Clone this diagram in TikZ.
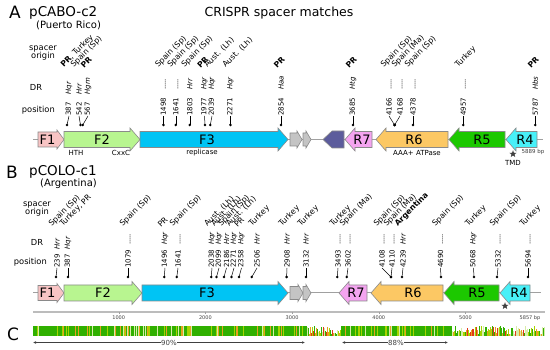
\documentclass[tikz,border=0pt]{standalone}
\usepackage{fontspec}
\setmainfont{DejaVu Sans}
\usetikzlibrary{arrows.meta,shapes.geometric}
\definecolor{fonepink}{HTML}{F8C4C4}
\definecolor{ftwogreen}{HTML}{B8F590}
\definecolor{fthreecyan}{HTML}{00C4F4}
\definecolor{orfgray}{HTML}{C4C4C4}
\definecolor{orfpurple}{HTML}{5C5C9C}
\definecolor{rsevenpink}{HTML}{F4A4F0}
\definecolor{rsixorange}{HTML}{FCC864}
\definecolor{rfivegreen}{HTML}{1CC800}
\definecolor{rfourcyan}{HTML}{48F0F8}
\definecolor{edgegray}{HTML}{8A8A8A}
\definecolor{spinegray}{HTML}{A0A0A0}
\definecolor{textgray}{HTML}{404040}
\definecolor{cons0}{HTML}{30B000}
\definecolor{cons1}{HTML}{A8D400}
\definecolor{cons2}{HTML}{E8A020}
\definecolor{cons3}{HTML}{E03818}
\definecolor{cons4}{HTML}{D8ECA8}
% gene arrow outlines: tail x, tip x, y, style
\newcommand{\fwdshape}[4]{\draw[#4] (#1,#3-\gbh) -- (#2-\ghl,#3-\gbh) -- (#2-\ghl,#3-\ghh) -- (#2,#3) -- (#2-\ghl,#3+\ghh) -- (#2-\ghl,#3+\gbh) -- (#1,#3+\gbh) -- cycle;}
\newcommand{\revshape}[4]{\draw[#4] (#1,#3-\gbh) -- (#2+\ghl,#3-\gbh) -- (#2+\ghl,#3-\ghh) -- (#2,#3) -- (#2+\ghl,#3+\ghh) -- (#2+\ghl,#3+\gbh) -- (#1,#3+\gbh) -- cycle;}
% spacer pins: name, dot x, column x, position, DR, origin
\newcommand{\pinA}[6]{%
  \coordinate (#1-dot) at (#2,125);
  \node[postext] (#1) at (#3,116) {#4\hspace{8pt}#5};
  \node[origtext] (#1-or) at (#3-4,69) {#6};
  \fill (#1-dot) circle[radius=1.4pt];
  \draw[pinline] (#1-dot) -- (#1.west);}
\newcommand{\pinB}[6]{%
  \coordinate (#1-dot) at (#2,277);
  \node[postext] (#1) at (#3,268) {#4\hspace{5pt}#5};
  \node[origtext] (#1-or) at (#3-4,228) {#6};
  \fill (#1-dot) circle[radius=1.4pt];
  \draw[pinline] (#1-dot) -- (#1.west);}

\begin{document}
\begin{tikzpicture}[x=1pt,y=-1pt,>=Latex,
 gene/.style={draw=edgegray,line width=0.6pt},
 genelabel/.style={inner sep=0pt,font=\fontsize{13}{13}\selectfont},
 note/.style={inner sep=0pt,font=\fontsize{7}{7}\selectfont},
 postext/.style={rotate=90,anchor=west,inner sep=0pt,font=\fontsize{7}{7}\selectfont},
 origtext/.style={rotate=45,anchor=south west,inner sep=0pt,font=\fontsize{7.8}{7.8}\selectfont},
 rowlabel/.style={inner sep=0pt,align=center,font=\fontsize{8.3}{8.8}\selectfont},
 panel/.style={inner sep=0pt,font=\fontsize{17}{17}\selectfont},
 plasmid/.style={inner sep=0pt,anchor=west,font=\fontsize{13.5}{13.5}\selectfont},
 origin/.style={inner sep=0pt,anchor=west,font=\fontsize{10}{10}\selectfont},
 pinline/.style={line width=0.5pt},
 spine/.style={spinegray,line width=1pt},
 tick/.style={inner sep=0pt,font=\fontsize{5}{5}\selectfont,textgray},
 pct/.style={-{Latex[length=3pt,width=2.6pt]},textgray,line width=0.5pt},
 tmd/.style={star,star points=5,star point ratio=2.4,fill=textgray,inner sep=0pt,minimum size=7.5pt}]
\useasboundingbox (0,0) rectangle (550,350);

% panel A
\node[panel] (lblA) at (15,12.5) {A};
\node[plasmid] (nameA) at (29,13) {pCABO-c2};
\node[origin] (placeA) at (36,25.5) {(Puerto Rico)};
\node[inner sep=0pt,font=\fontsize{12.5}{12.5}\selectfont] (title) at (279,13) {CRISPR spacer matches};
\node[rowlabel] (soA) at (43,53) {spacer\\origin};
\node[rowlabel] (drA) at (36,87) {DR};
\node[rowlabel,anchor=east] (posA) at (55,110) {position};

\draw[spine] (33,139.5) -- (543,139.5);
\def\gbh{7.5}\def\ghh{9.5}\def\ghl{7}
\fwdshape{38}{64}{139.5}{gene,fill=fonepink}
\def\gbh{8}\def\ghh{11.5}\def\ghl{10}
\fwdshape{64}{140}{139.5}{gene,fill=ftwogreen}
\fwdshape{140}{288}{139.5}{gene,fill=fthreecyan}
\revshape{372}{345}{139.5}{gene,fill=rsevenpink}
\revshape{448}{376}{139.5}{gene,fill=rsixorange}
\revshape{505}{449}{139.5}{gene,fill=rfivegreen}
\revshape{537}{506}{139.5}{gene,fill=rfourcyan}
\def\gbh{6.5}\def\ghh{8.5}\def\ghl{5}
\fwdshape{290}{302}{139.5}{gene,fill=orfgray}
\fwdshape{303}{311}{139.5}{gene,fill=orfgray}
\def\gbh{8.5}\def\ghh{8.5}\def\ghl{9}
\revshape{344}{323}{139.5}{gene,fill=orfpurple}

\node[genelabel] (f1A) at (47.5,139.5) {F1};
\node[genelabel] (f2A) at (102,139.5) {F2};
\node[genelabel] (f3A) at (207,139.5) {F3};
\node[genelabel] (r7A) at (362,139.5) {R7};
\node[genelabel] (r6A) at (414,139.5) {R6};
\node[genelabel] (r5A) at (482,139.5) {R5};
\node[genelabel] (r4A) at (525,139.5) {R4};
\node[note] (hth) at (76,153) {HTH};
\node[note] (cxxc) at (121,153) {CxxC};
\node[note] (repl) at (202,153) {replicase};
\node[note] (atpase) at (417,153) {AAA+ ATPase};
\node[tick,font=\fontsize{5.5}{5.5}\selectfont] (lenA) at (533,152) {5889 bp};
\node[tmd] (starA) at (513,154) {};
\node[note] (tmdA) at (513,162.5) {TMD};

\pinA{a387}{67}{69}{387}{\textit{Hqr}}{\textbf{PR}, Turkey}
\pinA{a542}{80.5}{79}{542}{\textit{Hrr}}{Spain (Sp)}
\pinA{a567}{82.7}{88}{567}{\textit{Hgm}}{\textbf{PR}}
\pinA{a1498}{163.4}{163.4}{1498}{.....}{Spain (Sp)}
\pinA{a1641}{175.8}{175.8}{1641}{.....}{Spain (Sp)}
\pinA{a1803}{189.8}{189.8}{1803}{\textit{Hrr}}{Spain (Sp)}
\pinA{a1977}{205}{204.5}{1977}{\textit{Hqr}}{\textbf{PR}}
\pinA{a2039}{210.3}{212}{2039}{\textit{Hqr}}{Aust. (Lh)}
\pinA{a2271}{230.4}{230.4}{2271}{\textit{Hqr}}{Aust. (Lh)}
\pinA{a2854}{281}{281}{2854}{\textit{Haa}}{\textbf{PR}}
\pinA{a3685}{353}{353}{3685}{\textit{Htg}}{\textbf{PR}}
\pinA{a4166}{394.6}{389}{4166}{.....}{Spain (Sp)}
\pinA{a4168}{394.6}{400}{4168}{.....}{Spain (Ma)}
\pinA{a4378}{413}{413}{4378}{.....}{Spain (Sp)}
\pinA{a4957}{463.3}{463.3}{4957}{.....}{Turkey}
\pinA{a5787}{535.2}{535.2}{5787}{\textit{Hbs}}{\textbf{PR}}

% panel B
\node[panel] (lblB) at (12,172) {B};
\node[plasmid] (nameB) at (29,172) {pCOLO-c1};
\node[origin] (placeB) at (40,184) {(Argentina)};
\node[rowlabel] (soB) at (37,209) {spacer\\origin};
\node[rowlabel] (drB) at (37,242) {DR};
\node[rowlabel,anchor=east] (posB) at (47,262) {position};

\draw[spine] (33,293) -- (541,293);
\def\gbh{7.5}\def\ghh{9.5}\def\ghl{7}
\fwdshape{38}{64}{293}{gene,fill=fonepink}
\def\gbh{8}\def\ghh{11.5}\def\ghl{10}
\fwdshape{64}{142}{293}{gene,fill=ftwogreen}
\fwdshape{142}{288}{293}{gene,fill=fthreecyan}
\revshape{367}{339}{293}{gene,fill=rsevenpink}
\revshape{443}{371}{293}{gene,fill=rsixorange}
\revshape{499}{444}{293}{gene,fill=rfivegreen}
\revshape{530}{500}{293}{gene,fill=rfourcyan}
\def\gbh{6.5}\def\ghh{8.5}\def\ghl{5}
\fwdshape{290}{303}{293}{gene,fill=orfgray}
\fwdshape{303}{311}{293}{gene,fill=orfgray}

\node[genelabel] (f1B) at (47.5,293) {F1};
\node[genelabel] (f2B) at (103,293) {F2};
\node[genelabel] (f3B) at (207,293) {F3};
\node[genelabel] (r7B) at (356,293) {R7};
\node[genelabel] (r6B) at (413,293) {R6};
\node[genelabel] (r5B) at (477,293) {R5};
\node[genelabel] (r4B) at (519,293) {R4};
\node[tmd] (starB) at (505,306) {};

\pinB{b239}{56}{57}{239}{\textit{Hrr}}{Spain (Sp)}
\pinB{b387}{68}{68}{387}{\textit{Hqr}}{Turkey, PR}
\pinB{b1079}{128}{128}{1079}{.....}{Spain (Sp)}
\pinB{b1496}{164.2}{165}{1496}{\textit{Hqr}}{PR}
\pinB{b1641}{176.8}{178}{1641}{.....}{Spain (Sp)}
\pinB{b2038}{211.2}{212}{2038}{\textit{Hqr}}{Aust. (Lh)}
\pinB{b2099}{216.5}{219}{2099}{\textit{Hqr}}{Aust. (Lh)}
\pinB{b2186}{224}{226.5}{2186}{\textit{Hrr}}{Spain (Sp)}
\pinB{b2271}{231.4}{234}{2271}{\textit{Hqr}}{Aust. (Lh)}
\pinB{b2358}{239}{241.5}{2358}{\textit{Hqr}}{PR}
\pinB{b2506}{251.8}{257}{2506}{\textit{Hrr}}{Turkey}
\pinB{b2908}{286.6}{287}{2908}{\textit{Hrr}}{Turkey}
\pinB{b3132}{306}{306}{3132}{\textit{Hrr}}{Turkey}
\pinB{b3493}{337.3}{338}{3493}{.....}{Turkey}
\pinB{b3602}{346.8}{348}{3602}{.....}{Spain (Ma)}
\pinB{b4108}{391}{382}{4108}{.....}{Spain (Sp)}
\pinB{b4110}{391}{392}{4110}{.....}{Spain (Ma)}
\pinB{b4239}{402}{403}{4239}{\textit{Hrr}}{\textbf{Argentina}}
\pinB{b4690}{441}{440.5}{4690}{.....}{Spain (Sp)}
\pinB{b5068}{474}{473.5}{5068}{\textit{Hqr}}{Turkey}
\pinB{b5332}{497}{498}{5332}{.....}{Spain (Sp)}
\pinB{b5694}{528}{528}{5694}{.....}{Turkey}

% scale
\draw[spinegray!70,line width=1.4pt] (33,312) -- (545,312);
\foreach \k/\t in {1/1000,2/2000,3/3000,4/4000,5/5000}{
  \draw[spinegray,line width=0.4pt] (32+86.7*\k,312) -- (32+86.7*\k,314.5);
  \node[tick] (tick\k) at (32+86.7*\k,318) {\t};}
\node[tick] (lenB) at (530,318) {5857 bp};

% panel C
\node[panel] (lblC) at (13,334) {C};
\pgfmathsetseed{42}
\foreach \i in {33,...,544}{
  \pgfmathsetmacro{\rr}{rnd}
  \pgfmathsetmacro{\rh}{rnd}
  \pgfmathtruncatemacro{\good}{((\i<306) || ((\i>340) && (\i<452))) ? 1 : 0}
  \ifnum\good=1
    \pgfmathtruncatemacro{\cc}{\rr<0.74 ? 0 : (\rr<0.86 ? 1 : (\rr<0.93 ? 4 : 2))}
    \def\hh{10}
  \else
    \pgfmathtruncatemacro{\cc}{\rr<0.28 ? 0 : (\rr<0.5 ? 1 : (\rr<0.68 ? 2 : (\rr<0.8 ? 3 : 4)))}
    \pgfmathsetmacro{\hh}{2+8*\rh}
  \fi
  \fill[fill=cons\cc] (\i,336) rectangle (\i+1,336-\hh);
}
\node[note,textgray] (p90) at (169,342.5) {90\%};
\coordinate (p90l) at (33,342.5);
\coordinate (p90r) at (305,342.5);
\draw[pct] (p90) -- (p90l);
\draw[pct] (p90) -- (p90r);
\node[note,textgray] (p88) at (396,342.5) {88\%};
\coordinate (p88l) at (342,342.5);
\coordinate (p88r) at (448,342.5);
\draw[pct] (p88) -- (p88l);
\draw[pct] (p88) -- (p88r);
\end{tikzpicture}
\end{document}
